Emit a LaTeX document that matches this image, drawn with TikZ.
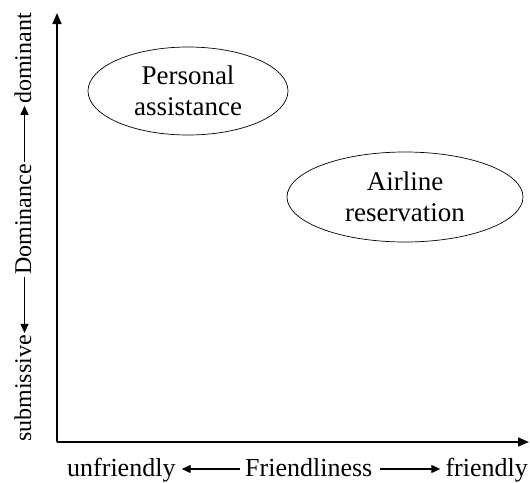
\documentclass[tikz,border=0pt]{standalone}
\usepackage{fontspec}
\setmainfont{Liberation Serif}
\usetikzlibrary{arrows.meta,shapes.geometric}
\tikzset{
  axis/.style={line width=1.6pt,-{Triangle[length=11pt,width=9pt]}},
  oval/.style={draw,ellipse,line width=0.7pt,align=center,font=\fontsize{27}{31}\selectfont},
  lbl/.style={font=\fontsize{26}{30}\selectfont,inner sep=0pt},
  vlbl/.style={font=\fontsize{24}{30}\selectfont,inner sep=0pt,rotate=90},
  txtarrow/.style={line width=1.1pt,-{Triangle[length=9pt,width=8pt]}}
}
\begin{document}
\begin{tikzpicture}[x=1pt,y=-1pt]
\useasboundingbox (0,0) rectangle (530,482);
\coordinate (O) at (57,442);
\coordinate (T) at (57,13);
\coordinate (R) at (529,442);
\draw[axis] (O) -- (T);
\draw[axis] (O) -- (R);
\node[oval,minimum width=200pt,minimum height=88pt] (pa) at (188,91) {Personal\\assistance};
\node[oval,minimum width=236pt,minimum height=90pt] (ar) at (405,197) {Airline\\reservation};
% horizontal label
\node[lbl,anchor=base west] (un) at (67,476) {unfriendly};
\node[lbl,anchor=base west] (fr) at (245,476) {Friendliness};
\node[lbl,anchor=base east] (fy) at (528,476) {friendly};
\draw[txtarrow] ([xshift=-5pt,yshift=7pt]fr.base west) -- ([xshift=6pt,yshift=7pt]un.base east);
\draw[txtarrow] ([xshift=7pt,yshift=7pt]fr.base east) -- ([xshift=-5pt,yshift=7pt]fy.base west);
% vertical label
\node[vlbl,anchor=base west] (sb) at (31,442) {submissive};
\node[vlbl,anchor=base west] (dm) at ([yshift=60pt]sb.base east) {Dominance};
\node[vlbl,anchor=base west] (dt) at ([yshift=60pt]dm.base east) {dominant};
\draw[txtarrow] ([xshift=-6.5pt,yshift=-2pt]dm.base west) -- ([xshift=-6.5pt,yshift=2pt]sb.base east);
\draw[txtarrow] ([xshift=-6.5pt,yshift=2pt]dm.base east) -- ([xshift=-6.5pt,yshift=-2pt]dt.base west);
\end{tikzpicture}
\end{document}
